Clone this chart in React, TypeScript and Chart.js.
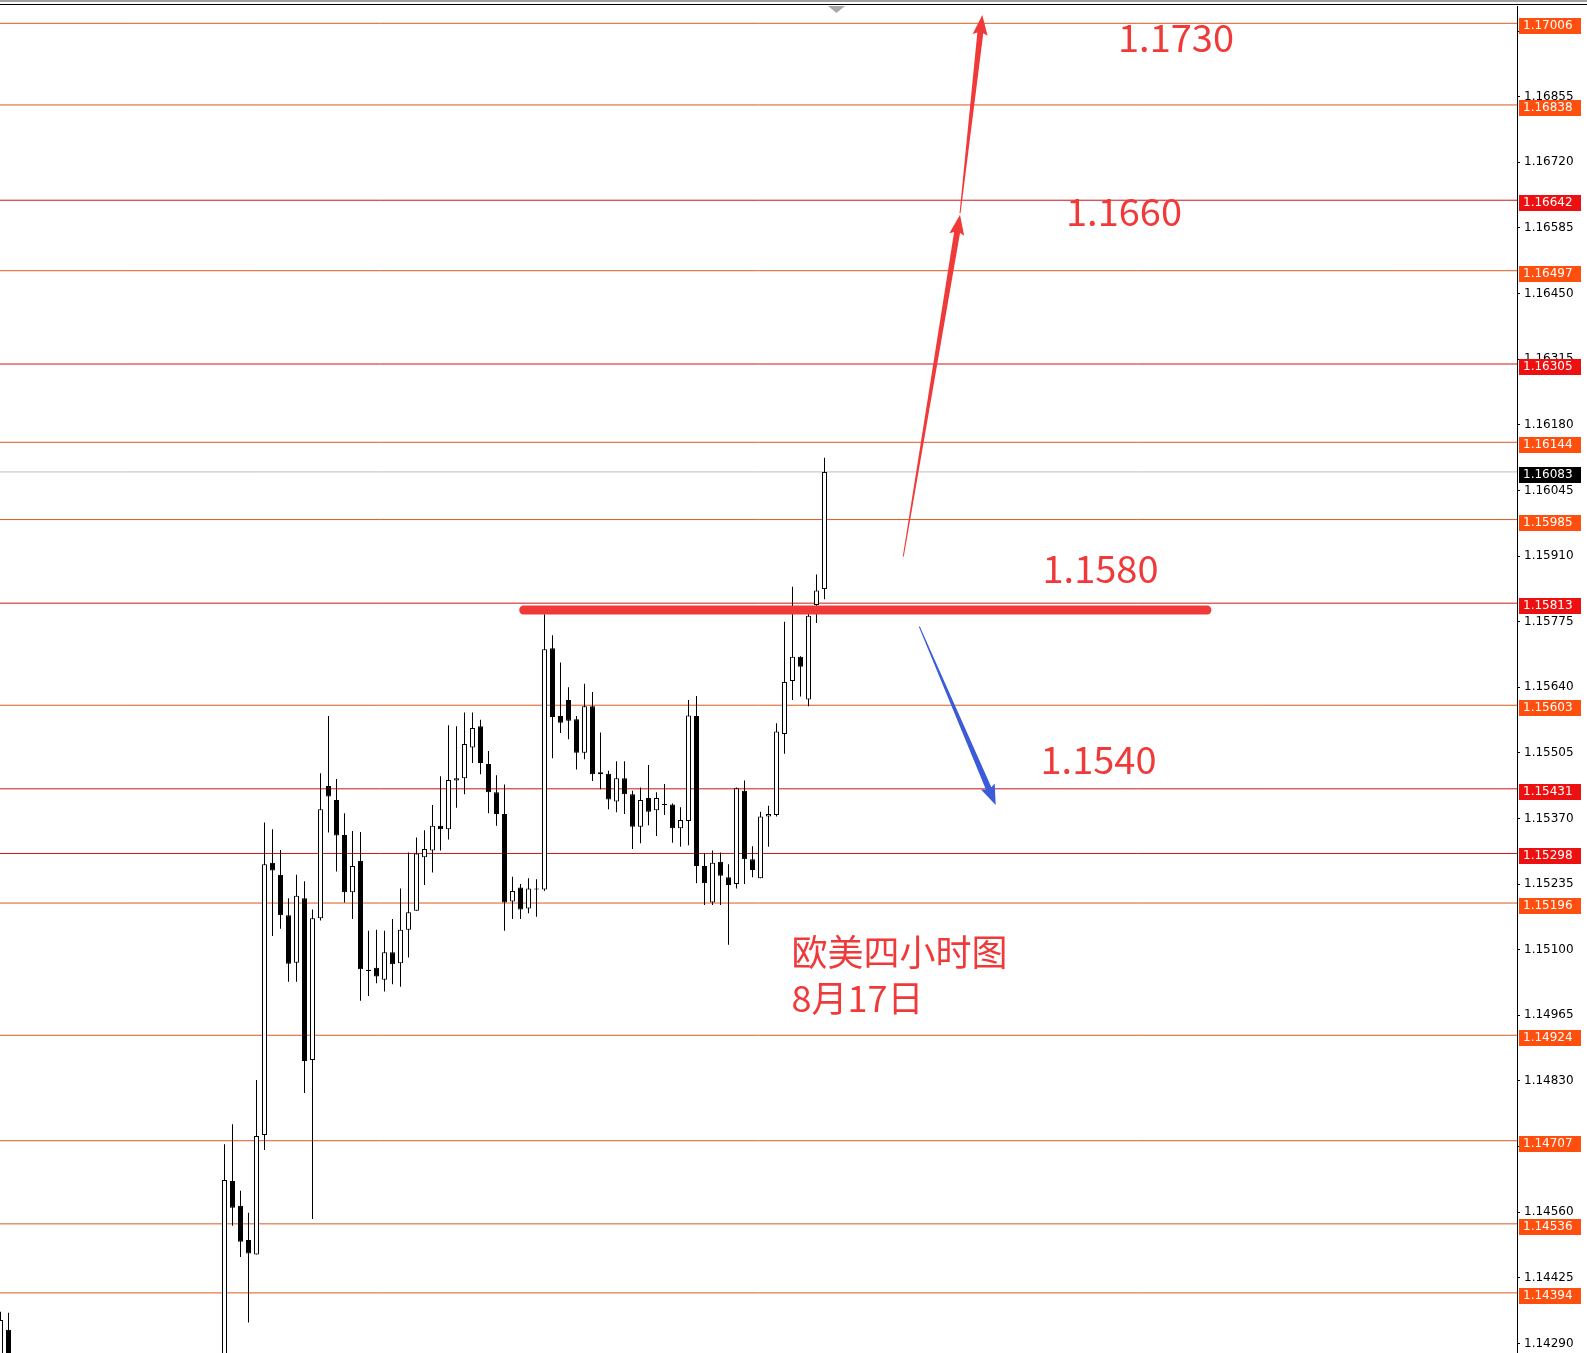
import React, { useEffect, useRef } from "react";
import { Chart, registerables } from "chart.js";
Chart.register(...registerables);

// candle index positions (bar number), OHLC values
const X_INDEX = [-28, -27, 0, 1, 2, 3, 4, 5, 6, 7, 8, 9, 10, 11, 12, 13, 14, 15, 16, 17, 18, 19, 20, 21, 22, 23, 24, 25, 26, 27, 28, 29, 30, 31, 32, 33, 34, 35, 36, 37, 38, 39, 40, 41, 42, 43, 44, 45, 46, 47, 48, 49, 50, 51, 52, 53, 54, 55, 56, 57, 58, 59, 60, 61, 62, 63, 64, 65, 66, 67, 68, 69, 70, 71, 72, 73, 74, 75];
const OPEN = [1.14240, 1.14318, 1.14200, 1.14624, 1.14573, 1.14503, 1.14473, 1.14719, 1.15279, 1.15254, 1.15171, 1.15073, 1.15206, 1.14873, 1.15165, 1.15437, 1.15408, 1.15336, 1.15218, 1.15283, 1.15059, 1.15063, 1.15038, 1.15095, 1.15072, 1.15141, 1.15180, 1.15290, 1.15304, 1.15355, 1.15348, 1.15448, 1.15453, 1.15516, 1.15560, 1.15482, 1.15424, 1.15379, 1.15199, 1.15228, 1.15185, 1.15226, 1.15224, 1.15720, 1.15581, 1.15614, 1.15574, 1.15505, 1.15601, 1.15465, 1.15462, 1.15405, 1.15453, 1.15420, 1.15353, 1.15412, 1.15387, 1.15400, 1.15399, 1.15350, 1.15365, 1.15581, 1.15272, 1.15197, 1.15281, 1.15249, 1.15235, 1.15427, 1.15286, 1.15247, 1.15374, 1.15377, 1.15544, 1.15653, 1.15703, 1.15615, 1.15809, 1.15842];
const HIGH = [1.14355, 1.14353, 1.14700, 1.14741, 1.14604, 1.14559, 1.14832, 1.15362, 1.15348, 1.15305, 1.15206, 1.15254, 1.15241, 1.15183, 1.15463, 1.15581, 1.15451, 1.15381, 1.15344, 1.15342, 1.15139, 1.15141, 1.15139, 1.15163, 1.15226, 1.15300, 1.15331, 1.15346, 1.15398, 1.15457, 1.15562, 1.15560, 1.15588, 1.15588, 1.15573, 1.15509, 1.15459, 1.15440, 1.15250, 1.15235, 1.15247, 1.15245, 1.15790, 1.15747, 1.15691, 1.15640, 1.15581, 1.15647, 1.15630, 1.15547, 1.15468, 1.15488, 1.15488, 1.15427, 1.15434, 1.15480, 1.15424, 1.15441, 1.15401, 1.15393, 1.15614, 1.15622, 1.15298, 1.15304, 1.15300, 1.15276, 1.15434, 1.15448, 1.15313, 1.15384, 1.15396, 1.15566, 1.15775, 1.15847, 1.15704, 1.15795, 1.15872, 1.16112];
const LOW = [1.14220, 1.14210, 1.14180, 1.14532, 1.14468, 1.14333, 1.14473, 1.14688, 1.15128, 1.15143, 1.15034, 1.15034, 1.14805, 1.14546, 1.15160, 1.15341, 1.15261, 1.15197, 1.15163, 1.14995, 1.15005, 1.15031, 1.15014, 1.15029, 1.15024, 1.15084, 1.15180, 1.15233, 1.15259, 1.15304, 1.15327, 1.15392, 1.15420, 1.15484, 1.15461, 1.15381, 1.15355, 1.15139, 1.15163, 1.15163, 1.15175, 1.15168, 1.15221, 1.15494, 1.15546, 1.15533, 1.15471, 1.15492, 1.15447, 1.15430, 1.15389, 1.15383, 1.15379, 1.15307, 1.15319, 1.15356, 1.15334, 1.15377, 1.15320, 1.15312, 1.15315, 1.15237, 1.15192, 1.15192, 1.15192, 1.15110, 1.15226, 1.15235, 1.15249, 1.15247, 1.15312, 1.15374, 1.15503, 1.15614, 1.15621, 1.15601, 1.15772, 1.15821];
const CLOSE = [1.14338, 1.14230, 1.14626, 1.14569, 1.14499, 1.14475, 1.14717, 1.15276, 1.15263, 1.15171, 1.15071, 1.15211, 1.14871, 1.15165, 1.15389, 1.15415, 1.15335, 1.15218, 1.15272, 1.15060, 1.15056, 1.15045, 1.15095, 1.15070, 1.15141, 1.15177, 1.15298, 1.15307, 1.15355, 1.15348, 1.15449, 1.15453, 1.15523, 1.15556, 1.15484, 1.15424, 1.15379, 1.15197, 1.15221, 1.15183, 1.15226, 1.15224, 1.15718, 1.15579, 1.15567, 1.15571, 1.15505, 1.15601, 1.15461, 1.15461, 1.15409, 1.15453, 1.15420, 1.15353, 1.15408, 1.15384, 1.15412, 1.15398, 1.15350, 1.15367, 1.15582, 1.15272, 1.15237, 1.15279, 1.15252, 1.15233, 1.15432, 1.15286, 1.15264, 1.15374, 1.15379, 1.15549, 1.15651, 1.15703, 1.15682, 1.15787, 1.15839, 1.16083];

// horizontal levels
const ORANGE_LEVELS = [1.17006, 1.16838, 1.16497, 1.16144, 1.15985, 1.15603, 1.15196, 1.14924, 1.14707, 1.14536, 1.14394];
const RED_LEVELS = [1.16642, 1.16305, 1.15813, 1.15431, 1.15298];
const CURRENT_PRICE = 1.16083;

// axis
const Y_TICKS = [1.14290, 1.14425, 1.14560, 1.14695, 1.14830, 1.14965, 1.15100, 1.15235, 1.15370, 1.15505, 1.15640, 1.15775, 1.15910, 1.16045, 1.16180, 1.16315, 1.16450, 1.16585, 1.16720, 1.16855, 1.16990];
const Y_MIN = 1.142703;
const Y_MAX = 1.170416;
const X_MIN = -28.0625;
const X_MAX = 161.5625;

// annotations (bar index, price)
const SUPPORT_LINE = { from: 37.4, to: 122.8, price: 1.15799 };
const ARROWS = [
  { from: [84.85, 1.15909], to: [91.94, 1.16612], color: "#f03a3a" },
  { from: [91.94, 1.16615], to: [94.73, 1.17023], color: "#f03a3a" },
  { from: [86.85, 1.15765], to: [96.4, 1.15398], color: "#3b5bd8" },
];
const TEXT_LABELS = ["1.1730", "1.1660", "1.1580", "1.1540", "欧美四小时图", "8月17日"];
const TEXT_X = [111.69, 105.19, 102.25, 102.0, 70.875, 70.875];
const TEXT_Y = [1.16947, 1.16589, 1.15854, 1.15462, 1.15067, 1.14972];
const TEXT_SIZE = [38, 38, 38, 38, 36, 36];

const ORANGE_LINE = "#dc5a1e";
const RED_LINE = "#cc1616";
const ORANGE_LABEL = "#ff4f0f";
const RED_LABEL = "#ec1010";
const MARK_RED = "#f03a3a";

function drawArrow(ctx: CanvasRenderingContext2D, x1: number, y1: number, x2: number, y2: number, color: string) {
  const dx = x2 - x1, dy = y2 - y1;
  const len = Math.hypot(dx, dy);
  const ux = dx / len, uy = dy / len;
  const nx = -uy, ny = ux;
  const headL = 18, headW = 15, shaftW = 6, tailW = 1;
  const bx = x2 - ux * headL, by = y2 - uy * headL;
  ctx.fillStyle = color;
  ctx.beginPath();
  ctx.moveTo(x1 + (nx * tailW) / 2, y1 + (ny * tailW) / 2);
  ctx.lineTo(bx + (nx * shaftW) / 2, by + (ny * shaftW) / 2);
  ctx.lineTo(bx + (nx * headW) / 2 - ux * 2, by + (ny * headW) / 2 - uy * 2);
  ctx.lineTo(x2, y2);
  ctx.lineTo(bx - (nx * headW) / 2 - ux * 2, by - (ny * headW) / 2 - uy * 2);
  ctx.lineTo(bx - (nx * shaftW) / 2, by - (ny * shaftW) / 2);
  ctx.lineTo(x1 - (nx * tailW) / 2, y1 - (ny * tailW) / 2);
  ctx.closePath();
  ctx.fill();
}

const annotationPlugin = {
  id: "annotations",
  afterDatasetsDraw(chart: any) {
    const { ctx } = chart;
    const xs = chart.scales.x, ys = chart.scales.y;
    ctx.save();
    // thick support line
    ctx.strokeStyle = MARK_RED;
    ctx.lineWidth = 9;
    ctx.lineCap = "round";
    ctx.beginPath();
    ctx.moveTo(xs.getPixelForValue(SUPPORT_LINE.from), ys.getPixelForValue(SUPPORT_LINE.price));
    ctx.lineTo(xs.getPixelForValue(SUPPORT_LINE.to), ys.getPixelForValue(SUPPORT_LINE.price));
    ctx.stroke();
    // arrows
    for (const a of ARROWS) {
      drawArrow(ctx, xs.getPixelForValue(a.from[0]), ys.getPixelForValue(a.from[1]), xs.getPixelForValue(a.to[0]), ys.getPixelForValue(a.to[1]), a.color);
    }
    // texts
    ctx.fillStyle = MARK_RED;
    ctx.textAlign = "left";
    ctx.textBaseline = "alphabetic";
    TEXT_LABELS.forEach((t, i) => {
      ctx.font = `${TEXT_SIZE[i]}px "Noto Sans CJK SC", "Noto Sans", sans-serif`;
      ctx.fillText(t, xs.getPixelForValue(TEXT_X[i]), ys.getPixelForValue(TEXT_Y[i]));
    });
    ctx.restore();
  },
  afterDraw(chart: any) {
    const { ctx, width } = chart;
    const ys = chart.scales.y;
    ctx.save();
    // top frame
    ctx.fillStyle = "#a0a0a0";
    ctx.fillRect(0, 0, width, 2);
    ctx.fillStyle = "#000";
    ctx.fillRect(0, 4, width, 1);
    // shift marker
    ctx.fillStyle = "#a8a8a8";
    ctx.beginPath();
    ctx.moveTo(828, 6);
    ctx.lineTo(845, 6);
    ctx.lineTo(836.5, 13);
    ctx.closePath();
    ctx.fill();
    // price labels
    ctx.font = '12px "DejaVu Sans"';
    ctx.textAlign = "left";
    ctx.textBaseline = "middle";
    const lab = (v: number, bg: string) => {
      const y = Math.round(ys.getPixelForValue(v));
      ctx.fillStyle = bg;
      ctx.fillRect(1519, y - 5, 62, 16);
      ctx.fillStyle = "#fff";
      ctx.fillText(v.toFixed(5), 1523, y + 3);
    };
    ORANGE_LEVELS.forEach((v) => lab(v, ORANGE_LABEL));
    RED_LEVELS.forEach((v) => lab(v, RED_LABEL));
    lab(CURRENT_PRICE, "#000");
    ctx.restore();
  },
};

export default function App() {
  const ref = useRef<HTMLCanvasElement | null>(null);
  useEffect(() => {
    document.body.style.margin = "0";
    document.body.style.overflow = "hidden";
    const canvas = ref.current!;
    const wicks = X_INDEX.map((x, i) => ({ x, y: [LOW[i], HIGH[i]] }));
    const bodies = X_INDEX.map((x, i) => ({ x, y: [Math.min(OPEN[i], CLOSE[i]), Math.max(OPEN[i], CLOSE[i])] }));
    const bodyColors = X_INDEX.map((_, i) => (CLOSE[i] > OPEN[i] ? "#ffffff" : "#000000"));
    const levelDataset = (v: number, color: string) => ({
      type: "line" as const,
      data: [{ x: X_MIN, y: v }, { x: X_MAX, y: v }],
      borderColor: color,
      borderWidth: 1,
      pointRadius: 0,
      order: 5,
    });
    const chart = new Chart(canvas, {
      type: "bar",
      data: {
        datasets: [
          ...ORANGE_LEVELS.map((v) => levelDataset(v, ORANGE_LINE)),
          ...RED_LEVELS.map((v) => levelDataset(v, RED_LINE)),
          levelDataset(CURRENT_PRICE, "#bdbdbd"),
          {
            type: "bar",
            data: wicks as any,
            backgroundColor: "#000",
            borderWidth: 0,
            grouped: false,
            maxBarThickness: 1,
            inflateAmount: 0,
            order: 2,
          } as any,
          {
            type: "bar",
            data: bodies as any,
            backgroundColor: bodyColors,
            borderColor: "#000",
            borderWidth: 1,
            borderSkipped: false,
            grouped: false,
            maxBarThickness: 5,
            inflateAmount: 0,
            order: 1,
          } as any,
        ],
      },
      options: {
        responsive: false,
        animation: false,
        events: [],
        layout: { padding: { top: 6, left: 0, right: 0, bottom: 0 } },
        plugins: { legend: { display: false }, tooltip: { enabled: false } },
        scales: {
          x: { type: "linear", min: X_MIN, max: X_MAX, display: false, offset: false },
          y: {
            type: "linear",
            position: "right",
            min: Y_MIN,
            max: Y_MAX,
            beginAtZero: false,
            afterBuildTicks: (s: any) => {
              s.ticks = Y_TICKS.map((v) => ({ value: v }));
            },
            afterFit: (s: any) => {
              s.width = 70;
              s.paddingTop = 0;
              s.paddingBottom = 0;
            },
            ticks: {
              autoSkip: false,
              color: "#000",
              font: { family: "DejaVu Sans", size: 12 },
              padding: 4,
              callback: (v: any) => Number(v).toFixed(5),
            },
            grid: { drawOnChartArea: false, drawTicks: true, tickLength: 3, color: "#000" },
            border: { display: true, color: "#000", width: 1 },
          },
        },
      } as any,
      plugins: [annotationPlugin],
    });
    return () => chart.destroy();
  }, []);
  return (
    <div style={{ position: "absolute", left: 0, top: 0, width: 1587, height: 1353, background: "#fff" }}>
      <canvas ref={ref} width={1587} height={1353} style={{ width: 1587, height: 1353, display: "block" }} />
    </div>
  );
}
